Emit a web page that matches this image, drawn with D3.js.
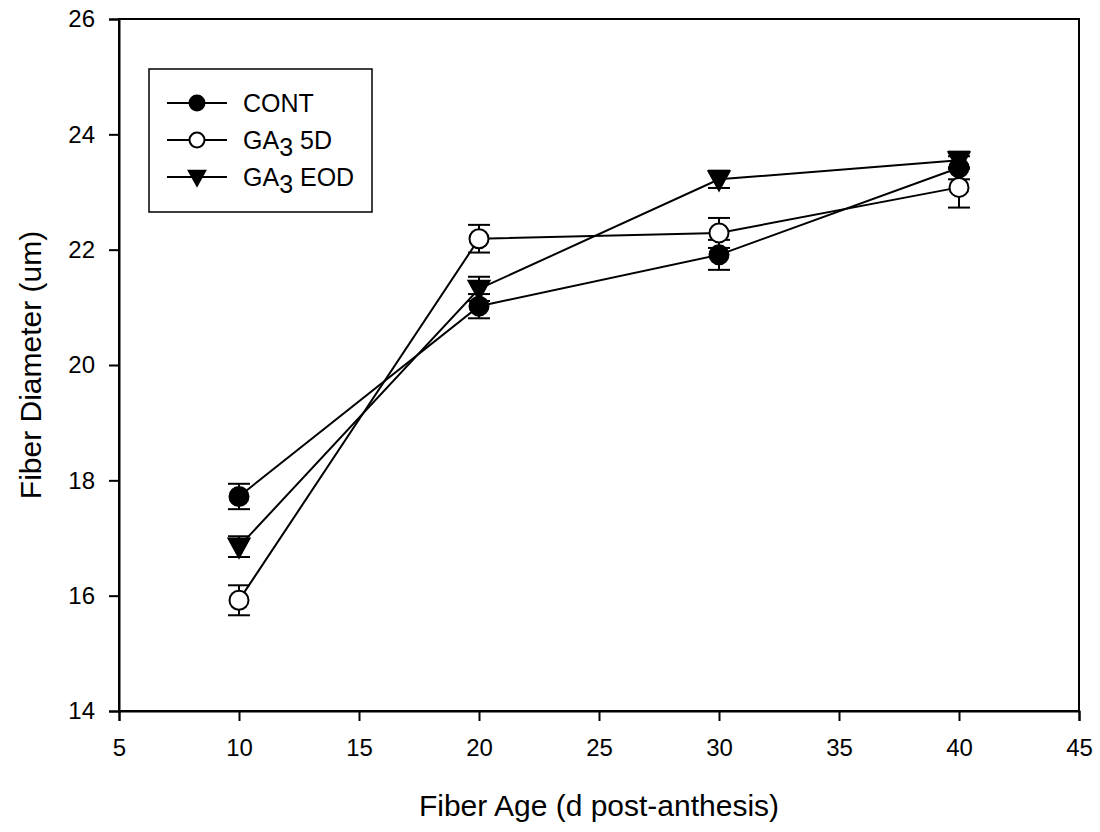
<!DOCTYPE html>
<html><head><meta charset="utf-8">
<script src="https://cdn.jsdelivr.net/npm/d3@7/dist/d3.min.js"></script>
<style>body{margin:0;background:#fff}svg{display:block}text{font-family:"Liberation Sans",Arial,sans-serif;fill:#000}</style>
</head><body><svg id="c" width="1100" height="832"></svg>
<script>
const ages = [10, 20, 30, 40];
const contMean = [17.72, 21.02, 21.91, 23.42];
const contErr  = [0.22, 0.21, 0.26, 0.20];
const ga5dMean = [15.92, 22.19, 22.29, 23.08];
const ga5dErr  = [0.26, 0.24, 0.26, 0.35];
const eodMean  = [16.85, 21.32, 23.22, 23.55];
const eodErr   = [0.18, 0.21, 0.15, 0.15];
const xTicks = [5, 10, 15, 20, 25, 30, 35, 40, 45];
const yTicks = [14, 16, 18, 20, 22, 24, 26];
const seriesNames = ["CONT", "GA3 5D", "GA3 EOD"];

const series = [
  {name: seriesNames[0], mean: contMean, err: contErr, shape: "circle", fill: "#000"},
  {name: seriesNames[1], mean: ga5dMean, err: ga5dErr, shape: "circle", fill: "#fff"},
  {name: seriesNames[2], mean: eodMean, err: eodErr, shape: "tri", fill: "#000"}
];

const L = 119, R = 1079, T = 19, B = 711;
const x = d3.scaleLinear().domain([5, 45]).range([L, R]);
const y = d3.scaleLinear().domain([14, 26]).range([B, T]);
const svg = d3.select("#c");

svg.append("rect").attr("x", L).attr("y", T).attr("width", R - L).attr("height", B - T)
  .attr("fill", "none").attr("stroke", "#000").attr("stroke-width", 2);

const xa = svg.append("g").attr("transform", `translate(0,${B})`)
  .call(d3.axisBottom(x).tickValues(xTicks).tickSize(10).tickPadding(18).tickFormat(d3.format("d")));
const ya = svg.append("g").attr("transform", `translate(${L},0)`)
  .call(d3.axisLeft(y).tickValues(yTicks).tickSize(10).tickPadding(14).tickFormat(d3.format("d")));
[xa, ya].forEach(a => {
  a.select(".domain").attr("stroke-width", 2);
  a.selectAll(".tick line").attr("stroke-width", 2);
  a.selectAll("text").attr("font-size", 24).attr("font-family", "Liberation Sans, Arial, sans-serif");
});

svg.append("text").attr("x", (L + R) / 2).attr("y", 816).attr("text-anchor", "middle")
  .attr("font-size", 30).text("Fiber Age (d post-anthesis)");
svg.append("text").attr("transform", `translate(41,${(T + B) / 2}) rotate(-90)`).attr("text-anchor", "middle")
  .attr("font-size", 30).text("Fiber Diameter (um)");

const line = d3.line().x((d, i) => x(ages[i])).y(d => y(d));
function marker(g, cx, cy, s, r) {
  if (s.shape === "circle") {
    g.append("circle").attr("cx", cx).attr("cy", cy).attr("r", r)
      .attr("fill", s.fill).attr("stroke", "#000").attr("stroke-width", 2);
  } else {
    const h = r * 2.1, w = r * 1.15;
    g.append("path").attr("d", `M${cx - w},${cy - h * 0.42}L${cx + w},${cy - h * 0.42}L${cx},${cy + h * 0.58}Z`)
      .attr("fill", s.fill).attr("stroke", "#000").attr("stroke-width", 1.5);
  }
}

series.forEach(s => {
  svg.append("path").datum(s.mean).attr("d", line).attr("fill", "none").attr("stroke", "#000").attr("stroke-width", 2);
});
series.forEach(s => {
  const g = svg.append("g");
  s.mean.forEach((m, i) => {
    const cx = x(ages[i]);
    const y1 = y(m + s.err[i]), y2 = y(m - s.err[i]);
    g.append("line").attr("x1", cx).attr("x2", cx).attr("y1", y1).attr("y2", y2).attr("stroke", "#000").attr("stroke-width", 2);
    [y1, y2].forEach(yy => g.append("line").attr("x1", cx - 11).attr("x2", cx + 11).attr("y1", yy).attr("y2", yy).attr("stroke", "#000").attr("stroke-width", 2));
  });
  s.mean.forEach((m, i) => marker(g, x(ages[i]), y(m), s, 9.5));
});

const leg = svg.append("g");
leg.append("rect").attr("x", 149).attr("y", 69).attr("width", 223).attr("height", 143)
  .attr("fill", "#fff").attr("stroke", "#000").attr("stroke-width", 1.5);
series.forEach((s, i) => {
  const ly = 103 + i * 37;
  leg.append("line").attr("x1", 167).attr("x2", 227).attr("y1", ly).attr("y2", ly).attr("stroke", "#000").attr("stroke-width", 2);
  marker(leg, 197, ly, s, 7.5);
  const t = leg.append("text").attr("x", 243).attr("y", ly + 9).attr("font-size", 25);
  if (s.name.startsWith("GA3")) {
    t.append("tspan").text("GA");
    t.append("tspan").attr("dy", 7).text("3");
    t.append("tspan").attr("dy", -7).text(s.name.slice(3));
  } else t.text(s.name);
});
</script></body></html>
